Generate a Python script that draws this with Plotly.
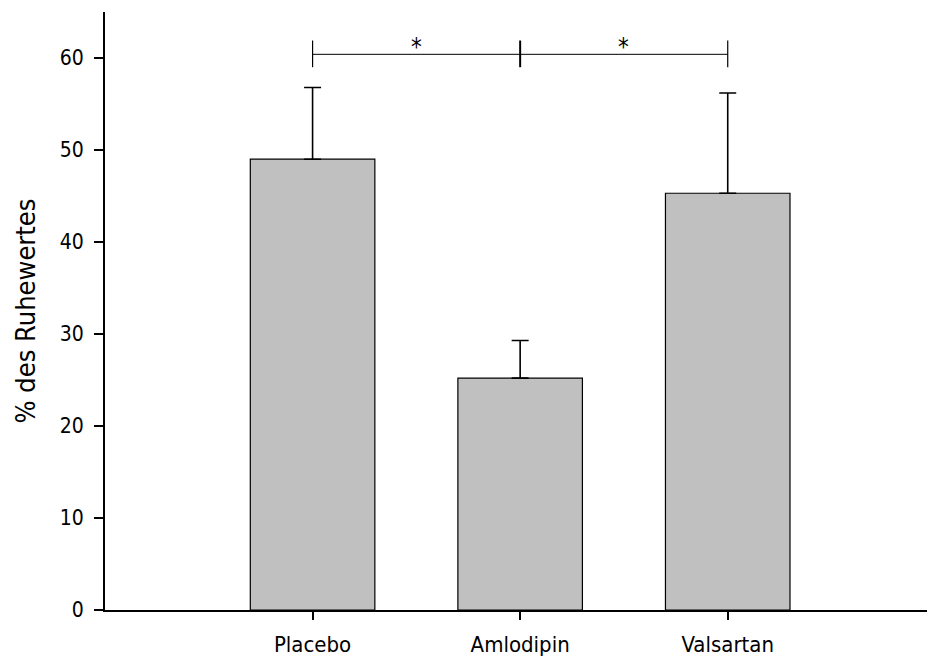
import plotly.graph_objects as go

categories = ["Placebo", "Amlodipin", "Valsartan"]
means = [49.0, 25.2, 45.3]
err_plus = [7.8, 4.1, 10.9]
y_ticks = [0, 10, 20, 30, 40, 50, 60]
bracket_y = 60.4
bracket_tick_lo = 59.0
bracket_tick_hi = 61.9
star_y = 61.2
star_labels = ["*", "*"]

FONT = "DejaVu Sans Condensed, DejaVu Sans, sans-serif"
xs = list(range(len(categories)))

fig = go.Figure()
fig.add_trace(go.Bar(
    x=xs, y=means, width=0.6,
    marker=dict(color="#C0C0C0", line=dict(color="black", width=1.2)),
    error_y=dict(type="data", symmetric=False, array=err_plus,
                 arrayminus=[0, 0, 0], color="black", thickness=1.6, width=8.5),
    showlegend=False,
))

shapes = [dict(type="line", xref="x", yref="y", x0=xs[0], x1=xs[-1],
               y0=bracket_y, y1=bracket_y, line=dict(color="black", width=1))]
for i, x in enumerate(xs):
    shapes.append(dict(type="line", xref="x", yref="y", x0=x, x1=x,
                       y0=bracket_tick_lo, y1=bracket_tick_hi,
                       line=dict(color="black", width=2 if i == 1 else 1.2)))
fig.update_layout(shapes=shapes)

for i, s in enumerate(star_labels):
    fig.add_annotation(x=xs[i] + 0.5, y=star_y, text=s, showarrow=False,
                       xref="x", yref="y", font=dict(size=24, color="black", family=FONT))

fig.update_layout(
    width=927, height=660,
    margin=dict(l=105, r=0, t=12, b=50),
    plot_bgcolor="white", paper_bgcolor="white",
    font=dict(family=FONT, color="black", size=22),
    xaxis=dict(range=[-1.0, 2.96], tickvals=xs, ticktext=categories,
               showline=True, linecolor="black", linewidth=2,
               ticks="outside", ticklen=8, tickwidth=1.5, tickcolor="black",
               showgrid=False, zeroline=False, ticklabelstandoff=6,
               tickfont=dict(size=22)),
    yaxis=dict(range=[0, 65], tickvals=y_ticks,
               showline=True, linecolor="black", linewidth=2,
               ticks="outside", ticklen=9, tickwidth=1.5, tickcolor="black",
               showgrid=False, zeroline=False, ticklabelstandoff=6,
               tickfont=dict(size=21),
               title=dict(text="% des Ruhewertes", font=dict(size=27), standoff=16)),
)

fig.write_html(
    "out.html",
    config={"displayModeBar": False},
    post_script="document.body.style.margin='0';document.body.style.overflow='hidden';",
)
